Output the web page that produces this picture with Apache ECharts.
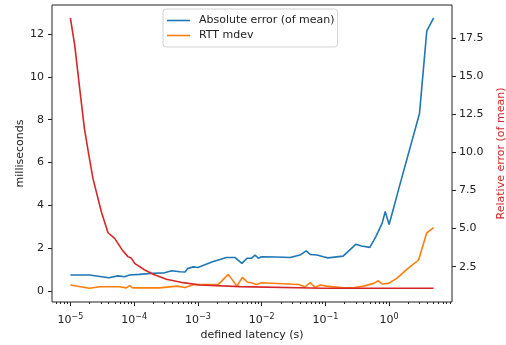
<!DOCTYPE html>
<html>
<head>
<meta charset="utf-8">
<script src="https://cdn.jsdelivr.net/npm/echarts@6/dist/echarts.min.js"></script>
<style>
  html, body { margin: 0; padding: 0; background: #fff; }
  #chart { width: 506px; height: 345px; }
</style>
</head>
<body>
<div id="chart"></div>
<script>
// defined latency (s) for each series
const absLatency = [1e-5, 2e-5, 4e-5, 5.6e-5, 7e-5, 8.5e-5, 1.2e-4, 2e-4, 3e-4, 3.9e-4,
  5.2e-4, 6.3e-4, 7e-4, 8.5e-4, 1e-3, 1.7e-3, 2.8e-3, 3.8e-3, 4.9e-3, 5.9e-3,
  6.9e-3, 7.9e-3, 8.9e-3, 1e-2, 1.7e-2, 2.8e-2, 4e-2, 5e-2, 5.8e-2, 7.4e-2,
  9.3e-2, 0.11, 0.19, 0.3, 0.37, 0.5, 0.62, 0.78, 0.87, 1.0, 1.17, 1.4, 3.0, 3.9, 5.0];
const absError = [0.75, 0.75, 0.62, 0.71, 0.67, 0.75, 0.78, 0.83, 0.85, 0.95,
  0.90, 0.89, 1.06, 1.13, 1.10, 1.37, 1.57, 1.57, 1.29, 1.53,
  1.53, 1.68, 1.53, 1.60, 1.59, 1.57, 1.68, 1.88, 1.71, 1.68,
  1.60, 1.55, 1.63, 2.18, 2.10, 2.04, 2.54, 3.17, 3.71, 3.11, 3.84, 4.71, 8.29, 12.13, 12.75];

const mdevLatency = [1e-5, 2e-5, 2.9e-5, 5.9e-5, 7.6e-5, 8.5e-5, 9.5e-5, 2.5e-4, 4.7e-4, 6.3e-4,
  8.5e-4, 2.1e-3, 3e-3, 4.1e-3, 5e-3, 6e-3, 6.9e-3, 8.3e-3, 1e-2, 3.8e-2,
  4.8e-2, 5.8e-2, 6.9e-2, 8.3e-2, 0.105, 0.19, 0.275, 0.4, 0.575, 0.68,
  0.78, 0.98, 1.32, 1.9, 2.9, 3.9, 5.0];
const rttMdev = [0.28, 0.13, 0.20, 0.20, 0.15, 0.25, 0.15, 0.15, 0.23, 0.17,
  0.30, 0.31, 0.78, 0.23, 0.64, 0.41, 0.39, 0.31, 0.39, 0.31,
  0.20, 0.39, 0.17, 0.28, 0.23, 0.15, 0.15, 0.23, 0.36, 0.48,
  0.33, 0.36, 0.59, 1.01, 1.45, 2.72, 2.96];

const relLatency = [1e-5, 1.17e-5, 1.4e-5, 1.66e-5, 1.95e-5, 2.26e-5, 3.06e-5, 3.9e-5, 4.95e-5, 6.5e-5,
  8e-5, 9.1e-5, 1.02e-4, 1.47e-4, 2e-4, 3.2e-4, 5.9e-4, 1.07e-3, 4.6e-3, 9.3e-2, 5.0];
const relError = [18.85, 17.06, 14.21, 11.59, 9.83, 8.30, 6.11, 4.73, 4.36, 3.60,
  3.16, 3.05, 2.72, 2.28, 2.00, 1.67, 1.45, 1.30, 1.19, 1.08, 1.08];

const decadeTicks = [-5, -4, -3, -2, -1, 0];
const msTicks = [0, 2, 4, 6, 8, 10, 12];
const relTicks = [2.5, 5, 7.5, 10, 12.5, 15, 17.5];

const xMin = -5.288, xMax = 0.987;
const minorTicks = [];
for (let n = -6; n <= 0; n++) {
  for (let k = 2; k <= 9; k++) {
    const v = n + Math.log10(k);
    if (v >= xMin && v <= xMax) minorTicks.push(v);
  }
}

const pairs = (xs, ys) => xs.map((x, i) => [Math.log10(x), ys[i]]);

const font = 'DejaVu Sans';
const ink = '#222';

const chart = echarts.init(document.getElementById('chart'));
chart.setOption({
  animation: false,
  textStyle: { fontFamily: font },
  grid: {
    left: 52, right: 54, top: 5, bottom: 43,
    outerBoundsMode: 'none',
    show: true, borderColor: ink, borderWidth: 1, backgroundColor: 'transparent'
  },
  legend: {
    orient: 'vertical',
    left: 163, top: 9,
    icon: 'rect',
    itemWidth: 23, itemHeight: 1.6, itemGap: 2,
    padding: [5, 3, 5, 4],
    borderColor: '#d3d3d3', borderWidth: 1, borderRadius: 3,
    backgroundColor: 'rgba(255,255,255,0.8)',
    textStyle: { fontFamily: font, fontSize: 11, color: ink, lineHeight: 13, padding: [0, 0, 0, 4] },
    data: ['Absolute error (of mean)', 'RTT mdev']
  },
  xAxis: [
    {
      type: 'value', min: xMin, max: xMax,
      name: 'defined latency (s)', nameLocation: 'middle', nameGap: 28,
      nameMoveOverlap: false,
      nameTextStyle: { fontFamily: font, fontSize: 11, color: ink },
      axisLine: { show: false, onZero: false },
      splitLine: { show: false },
      axisTick: { show: true, length: 4, lineStyle: { color: ink }, customValues: decadeTicks },
      axisLabel: {
        customValues: decadeTicks, margin: 11,
        formatter: v => '{b|10}{s|' + (v < 0 ? '\u2212' : '') + Math.abs(v) + '}',
        rich: {
          b: { fontFamily: font, fontSize: 11, color: ink },
          s: { fontFamily: font, fontSize: 8, color: ink, padding: [0, 0, 6, 0] }
        }
      }
    },
    {
      type: 'value', min: xMin, max: xMax, position: 'bottom',
      axisLine: { show: false, onZero: false },
      splitLine: { show: false },
      axisLabel: { show: false },
      axisTick: { show: true, length: 2, lineStyle: { color: ink }, customValues: minorTicks }
    }
  ],
  yAxis: [
    {
      type: 'value', min: -0.51, max: 13.35, position: 'left',
      name: 'milliseconds', nameLocation: 'middle', nameGap: 26,
      nameMoveOverlap: false,
      nameTextStyle: { fontFamily: font, fontSize: 11, color: ink },
      axisLine: { show: false, onZero: false },
      splitLine: { show: false },
      axisTick: { show: true, length: 4, lineStyle: { color: ink }, customValues: msTicks },
      axisLabel: { customValues: msTicks, margin: 8, fontFamily: font, fontSize: 11, color: ink }
    },
    {
      type: 'value', min: 0.18, max: 19.69, position: 'right',
      name: 'Relative error (of mean)', nameLocation: 'middle', nameGap: 44,
      nameMoveOverlap: false,
      nameTextStyle: { fontFamily: font, fontSize: 11, color: '#d62728' },
      axisLine: { show: false, onZero: false },
      splitLine: { show: false },
      axisTick: { show: true, length: 4, lineStyle: { color: ink }, customValues: relTicks },
      axisLabel: {
        customValues: relTicks, margin: 7, fontFamily: font, fontSize: 11, color: ink,
        formatter: v => v.toFixed(1)
      }
    }
  ],
  series: [
    {
      name: 'Absolute error (of mean)', type: 'line', symbol: 'none',
      xAxisIndex: 0, yAxisIndex: 0,
      lineStyle: { color: '#1f77b4', width: 1.6 }, itemStyle: { color: '#1f77b4' },
      data: pairs(absLatency, absError)
    },
    {
      name: 'RTT mdev', type: 'line', symbol: 'none',
      xAxisIndex: 0, yAxisIndex: 0,
      lineStyle: { color: '#ff7f0e', width: 1.6 }, itemStyle: { color: '#ff7f0e' },
      data: pairs(mdevLatency, rttMdev)
    },
    {
      name: 'Relative error', type: 'line', symbol: 'none',
      xAxisIndex: 0, yAxisIndex: 1,
      lineStyle: { color: '#d62728', width: 1.6 }, itemStyle: { color: '#d62728' },
      data: pairs(relLatency, relError)
    }
  ]
});
</script>
</body>
</html>
